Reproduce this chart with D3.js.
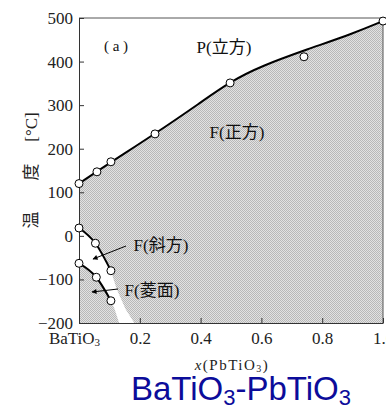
<!DOCTYPE html>
<head>
<meta charset="utf-8">
<style>
  body { margin: 0; background: #fff; }
  svg text { font-family: "Liberation Serif", "Times New Roman", "DejaVu Serif", "Noto Sans CJK JP", serif; }
</style>
</head>
<body>
<div id="chart_container"></div>
<script src="https://cdn.jsdelivr.net/npm/d3@7"></script>
<script>

// measured points (open circles)
const cubicX = [0, 0.059, 0.105, 0.25, 0.497, 0.74, 1.0]
const cubicT = [120, 147, 170, 234, 351, 411, 493]
// drawn boundary curve P / F(tetragonal)
const cubicCurveX = [0, 0.1, 0.25, 0.4, 0.5, 0.6, 0.75, 0.9, 1.0]
const cubicCurveT = [120, 167, 234, 306, 355, 390, 428, 464, 493]

const orthoX = [0, 0.054, 0.105]
const orthoT = [18, -17, -80]
const rhomboX = [0, 0.057, 0.105]
const rhomboT = [-63, -95, -149]

// white band under the low-temperature lines
const bandRightX = [0.124, 0.153, 0.182]
const bandRightT = [-122, -168, -200]
const bandLeftX = [0.132, 0.117]
const bandLeftT = [-200, -168]

const yTicks = [500, 400, 300, 200, 100, 0, -100, -200]
const xTicks = [0, 0.2, 0.4, 0.6, 0.8, 1.0]
const xTickLabels = ['BaTiO3', '0.2', '0.4', '0.6', '0.8', '1.0']

const width = 386
const height = 409

const x = d3.scaleLinear().domain([0, 1]).range([79, 383])
const y = d3.scaleLinear().domain([-200, 500]).range([323, 18])

const svg = d3.select('#chart_container')
  .append('svg')
  .attr('width', width)
  .attr('height', height)

const defs = svg.append('defs')
const pat = defs.append('pattern')
  .attr('id', 'dots')
  .attr('width', 2).attr('height', 2)
  .attr('patternUnits', 'userSpaceOnUse')
pat.append('rect').attr('width', 2).attr('height', 2).attr('fill', '#e2e2e2')
pat.append('rect').attr('width', 1).attr('height', 1).attr('fill', '#b8b8b8')
pat.append('rect').attr('x', 1).attr('y', 1).attr('width', 1).attr('height', 1).attr('fill', '#b8b8b8')

defs.append('marker')
  .attr('id', 'arrow')
  .attr('viewBox', '0 0 10 10')
  .attr('refX', 9).attr('refY', 5)
  .attr('markerWidth', 8).attr('markerHeight', 5)
  .attr('markerUnits', 'userSpaceOnUse')
  .attr('orient', 'auto')
  .append('path')
  .attr('d', 'M0,0 L10,5 L0,10 Z')
  .attr('fill', '#000')

const curvePts = cubicCurveX.map((v, i) => [v, cubicCurveT[i]])

// grey ferroelectric region
svg.append('path')
  .datum(curvePts)
  .attr('d', d3.area()
    .x(d => x(d[0]))
    .y0(y(-200))
    .y1(d => y(d[1]))
    .curve(d3.curveBasis))
  .attr('fill', 'url(#dots)')

// white region between the low-temperature boundaries
const whitePts = []
orthoX.forEach((v, i) => whitePts.push([v, orthoT[i]]))
bandRightX.forEach((v, i) => whitePts.push([v, bandRightT[i]]))
bandLeftX.forEach((v, i) => whitePts.push([v, bandLeftT[i]]))
for (let i = rhomboX.length - 1; i >= 0; i--) whitePts.push([rhomboX[i], rhomboT[i]])

svg.append('path')
  .datum(whitePts)
  .attr('d', d3.line().x(d => x(d[0])).y(d => y(d[1])).curve(d3.curveLinearClosed))
  .attr('fill', '#fff')

// frame top + right
svg.append('path')
  .attr('d', `M${x(0)},${y(500)}H${x(1)}V${y(-200)}`)
  .attr('fill', 'none')
  .attr('stroke', '#555')
  .attr('stroke-width', 1)

const serif = '"Liberation Serif", "Times New Roman", "DejaVu Serif", serif'

// axes
const yAxis = d3.axisLeft(y)
  .tickValues(yTicks)
  .tickSizeInner(-5)
  .tickSizeOuter(0)
  .tickPadding(6)
  .tickFormat(d => d < 0 ? '\u2212' + Math.abs(d) : d)

svg.append('g')
  .attr('transform', `translate(${x(0)},0)`)
  .call(yAxis)
  .attr('font-family', null)
  .call(g => g.selectAll('text').attr('font-size', 17).attr('fill', '#222')
    .style('font-family', serif))
  .call(g => g.selectAll('line').attr('stroke', '#333'))
  .call(g => g.select('.domain').attr('stroke', '#333'))

const xAxis = d3.axisBottom(x)
  .tickValues(xTicks)
  .tickSizeInner(-5)
  .tickSizeOuter(0)
  .tickPadding(9)
  .tickFormat((d, i) => xTickLabels[i])

svg.append('g')
  .attr('transform', `translate(0,${y(-200)})`)
  .call(xAxis)
  .attr('font-family', null)
  .call(g => g.selectAll('text').attr('font-size', 17).attr('fill', '#222')
    .style('font-family', serif))
  .call(g => g.selectAll('line').attr('stroke', '#333'))
  .call(g => g.select('.domain').attr('stroke', '#333'))

// subscript for BaTiO3 label
svg.selectAll('.tick text').filter((d, i, n) => d3.select(n[i]).text() === 'BaTiO3')
  .text(null)
  .attr('dx', -5)
  .call(t => {
    t.append('tspan').text('BaTiO')
    t.append('tspan').text('3').attr('font-size', 11).attr('dy', 2)
  })

// boundary lines
svg.append('path')
  .datum(curvePts)
  .attr('d', d3.line().x(d => x(d[0])).y(d => y(d[1])).curve(d3.curveBasis))
  .attr('fill', 'none')
  .attr('stroke', '#000')
  .attr('stroke-width', 2)

const lowLine = d3.line().x(d => x(d[0])).y(d => y(d[1])).curve(d3.curveMonotoneX)
svg.append('path')
  .datum(orthoX.map((v, i) => [v, orthoT[i]]))
  .attr('d', lowLine)
  .attr('fill', 'none').attr('stroke', '#000').attr('stroke-width', 2)
svg.append('path')
  .datum(rhomboX.map((v, i) => [v, rhomboT[i]]))
  .attr('d', lowLine)
  .attr('fill', 'none').attr('stroke', '#000').attr('stroke-width', 2)

// open circles
const pts = []
cubicX.forEach((v, i) => pts.push([v, cubicT[i]]))
orthoX.forEach((v, i) => pts.push([v, orthoT[i]]))
rhomboX.forEach((v, i) => pts.push([v, rhomboT[i]]))

svg.append('g')
  .selectAll('circle')
  .data(pts)
  .enter()
  .append('circle')
  .attr('cx', d => x(d[0]))
  .attr('cy', d => y(d[1]))
  .attr('r', 4)
  .attr('fill', '#fff')
  .attr('stroke', '#000')
  .attr('stroke-width', 1)

// labels inside the plot
const label = (tx, ty, s, size) => svg.append('text')
  .attr('x', tx).attr('y', ty)
  .attr('text-anchor', 'middle')
  .attr('font-size', size)
  .attr('fill', '#111')
  .text(s)

label(116, 51, '( a )', 15)
label(224, 53, 'P(立方)', 17)
label(237, 138, 'F(正方)', 17)
label(161, 251, 'F(斜方)', 17)
label(152, 296, 'F(菱面)', 17)

// arrows
svg.append('line')
  .attr('x1', 126).attr('y1', 246).attr('x2', 93).attr('y2', 259)
  .attr('stroke', '#000').attr('stroke-width', 1)
  .attr('marker-end', 'url(#arrow)')
svg.append('line')
  .attr('x1', 118).attr('y1', 289).attr('x2', 92).attr('y2', 292)
  .attr('stroke', '#000').attr('stroke-width', 1)
  .attr('marker-end', 'url(#arrow)')

// y axis title (rotated)
const yTitle = [['温', 220], ['度', 172], ['[°C]', 127]]
yTitle.forEach(d => {
  svg.append('text')
    .attr('transform', `translate(37,${d[1]}) rotate(-90)`)
    .attr('text-anchor', 'middle')
    .attr('font-size', 17)
    .attr('fill', '#222')
    .text(d[0])
})

// x axis title
const xt = svg.append('text')
  .attr('x', 232).attr('y', 370)
  .attr('text-anchor', 'middle')
  .attr('font-size', 15)
  .attr('letter-spacing', 1.5)
  .attr('fill', '#222')
xt.append('tspan').attr('font-style', 'italic').text('x')
xt.append('tspan').text('(PbTiO')
xt.append('tspan').attr('font-size', 10).attr('dy', 2).text('3')
xt.append('tspan').attr('dy', -2).text(')')

// big blue title
const title = svg.append('text')
  .attr('x', 241).attr('y', 400)
  .attr('text-anchor', 'middle')
  .attr('font-size', 33)
  .attr('fill', '#0c0c9a')
  .style('font-family', '"Liberation Sans", Arial, sans-serif')
title.append('tspan').text('BaTiO')
title.append('tspan').attr('font-size', 22).attr('dy', 5).text('3')
title.append('tspan').attr('dy', -5).text('-PbTiO')
title.append('tspan').attr('font-size', 22).attr('dy', 5).text('3')

</script>
</body>
